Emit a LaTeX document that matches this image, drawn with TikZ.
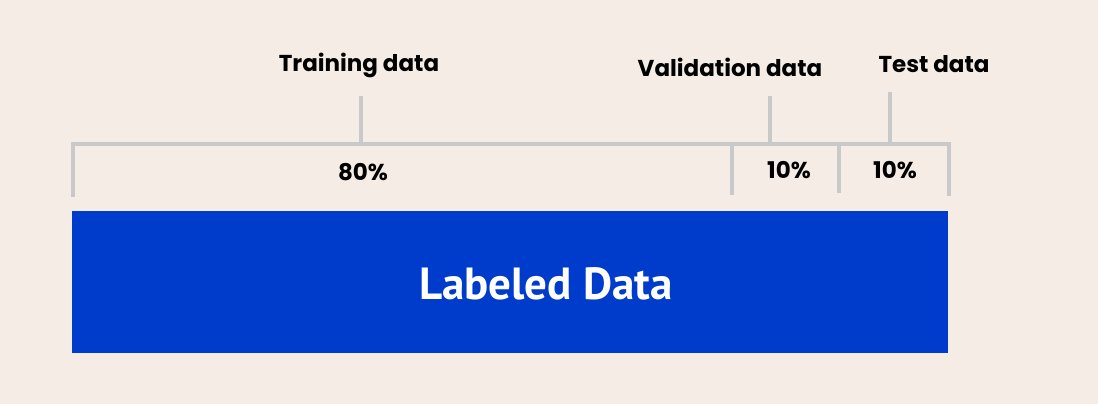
\documentclass[tikz,border=0pt]{standalone}
\usepackage{fontspec}
\setmainfont{Poppins}
\newfontfamily\labfont{PT Sans}
\definecolor{bg}{HTML}{F5ECE5}
\definecolor{blk}{HTML}{003CCC}
\definecolor{gry}{HTML}{C9C9C9}
\begin{document}
\begin{tikzpicture}[x=1pt,y=-1pt,
  brk/.style={draw=gry,line width=4pt},
  lbl/.style={font=\fontsize{23}{26}\selectfont\bfseries,text=black,inner sep=0pt},
  pct/.style={font=\fontsize{23}{26}\selectfont\bfseries,text=black,inner sep=0pt}]
\fill[bg] (0,0) rectangle (1098,404);
\useasboundingbox (0,0) rectangle (1098,404);
\node[fill=blk,minimum width=876pt,minimum height=142pt,inner sep=0pt,anchor=north west] (data) at (72,211) {};
\node[text=white,font=\labfont\fontsize{45}{50}\selectfont\bfseries] (datalbl) at (546,284) {Labeled Data};
% bracket
\coordinate (l0) at (73,197);
\coordinate (l1) at (73,144);
\coordinate (r1) at (949,144);
\coordinate (r0) at (949,196);
\draw[brk] (l0) -- (l1) -- (r1) -- (r0);
\coordinate (d1a) at (732,144); \coordinate (d1b) at (732,195);
\coordinate (d2a) at (839,144); \coordinate (d2b) at (839,193);
\draw[brk] (d1a) -- (d1b);
\draw[brk] (d2a) -- (d2b);
% ticks
\coordinate (t1a) at (361,144); \coordinate (t1b) at (361,96);
\coordinate (t2a) at (770,144); \coordinate (t2b) at (770,96);
\coordinate (t3a) at (890,144); \coordinate (t3b) at (890,92);
\draw[brk] (t1a) -- (t1b);
\draw[brk] (t2a) -- (t2b);
\draw[brk] (t3a) -- (t3b);
% labels
\node[lbl] (train) at (359,65) {Training data};
\node[lbl] (valid) at (730,67) {Validation data};
\node[lbl] (test) at (934,64) {Test data};
\node[pct] (p80) at (363,172) {80\%};
\node[pct] (p10a) at (789,170) {10\%};
\node[pct] (p10b) at (895,170) {10\%};
\end{tikzpicture}
\end{document}
